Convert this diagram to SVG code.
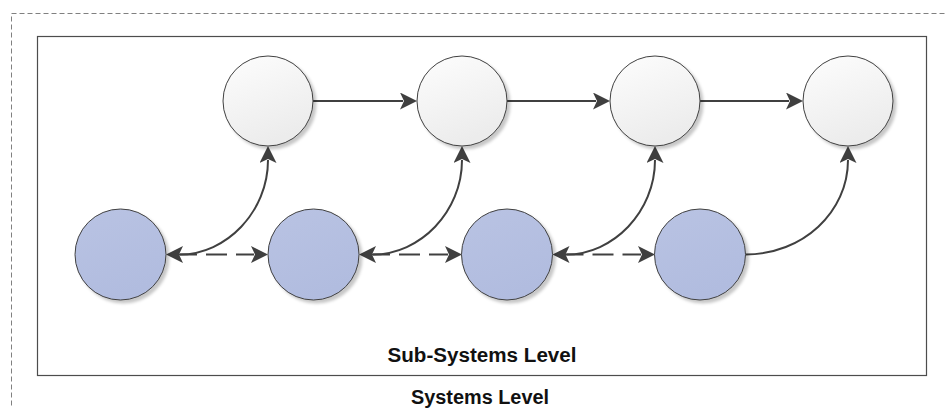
<svg xmlns="http://www.w3.org/2000/svg" width="946" height="408" viewBox="0 0 946 408">
  <style>
    .frame-outer { fill: none; stroke: #808080; stroke-width: 1; stroke-dasharray: 5 3; }
    .frame-inner { fill: #ffffff; stroke: #4d4d4d; stroke-width: 1.2; }
    .state { fill: url(#stateFill); stroke: #404040; stroke-width: 1; filter: url(#shadow); }
    .sub { fill: url(#subFill); stroke: #404040; stroke-width: 1; filter: url(#shadow); }
    .link { fill: none; stroke: #404040; stroke-width: 2; }
    .dashed { stroke-dasharray: 21 9; }
    .label { font-family: "Liberation Sans", Arial, sans-serif; font-weight: bold; font-size: 20px; fill: #111111; text-anchor: middle; }
  </style>
  <defs>
    <linearGradient id="stateFill" x1="0" y1="0" x2="0.4" y2="1">
      <stop offset="0" stop-color="#fdfdfd"/>
      <stop offset="1" stop-color="#ececec"/>
    </linearGradient>
    <linearGradient id="subFill" x1="0" y1="0" x2="0.4" y2="1">
      <stop offset="0" stop-color="#b9c3e3"/>
      <stop offset="1" stop-color="#b1bcdf"/>
    </linearGradient>
    <filter id="shadow" x="-20%" y="-20%" width="150%" height="150%">
      <feDropShadow dx="3" dy="3" stdDeviation="1.6" flood-color="#000000" flood-opacity="0.22"/>
    </filter>
    <marker id="head" markerUnits="userSpaceOnUse" markerWidth="18" markerHeight="18" refX="3" refY="8.5" orient="auto-start-reverse">
      <path d="M0,0 L17,8.5 L0,17 L4,8.5 z" fill="#3f3f3f"/>
    </marker>
  </defs>

  <!-- containers -->
  <rect class="frame-outer" x="11.5" y="13.5" width="1000" height="500"/>
  <rect class="frame-inner" x="37.5" y="36.5" width="889" height="339"/>
  <text class="label" x="482" y="362" textLength="189" lengthAdjust="spacingAndGlyphs">Sub-Systems Level</text>
  <text class="label" x="480" y="404" textLength="138" lengthAdjust="spacingAndGlyphs">Systems Level</text>

  <!-- connectors -->
  <g id="connectors">
    <!-- top row flow -->
    <path class="link" d="M313,101 L403,101" marker-end="url(#head)"/>
    <path class="link" d="M507,101 L596,101" marker-end="url(#head)"/>
    <path class="link" d="M700,101 L789,101" marker-end="url(#head)"/>
    <!-- links between rows -->
    <path class="link" d="M180,254.5 C226,254.5 268,212 268,160" marker-start="url(#head)" marker-end="url(#head)"/>
    <path class="link" d="M373,254.5 C420,254.5 462,212 462,160" marker-start="url(#head)" marker-end="url(#head)"/>
    <path class="link" d="M566.5,254.5 C613,254.5 655,212 655,160" marker-start="url(#head)" marker-end="url(#head)"/>
    <path class="link" d="M745.5,254.5 C803,254.5 848,212 848,160" marker-end="url(#head)"/>
    <!-- bottom row dashed links -->
    <path class="link dashed" d="M176,254.5 L254,254.5" marker-end="url(#head)"/>
    <path class="link dashed" d="M369,254.5 L448,254.5" marker-end="url(#head)"/>
    <path class="link dashed" d="M562.5,254.5 L641,254.5" marker-end="url(#head)"/>
  </g>

  <!-- top row nodes -->
  <g id="top-1"><circle class="state" cx="268" cy="101" r="45"/></g>
  <g id="top-2"><circle class="state" cx="462" cy="101" r="45"/></g>
  <g id="top-3"><circle class="state" cx="655" cy="101" r="45"/></g>
  <g id="top-4"><circle class="state" cx="848" cy="101" r="45"/></g>

  <!-- bottom row nodes -->
  <g id="sub-1"><circle class="sub" cx="120.5" cy="254.5" r="45.5"/></g>
  <g id="sub-2"><circle class="sub" cx="313.5" cy="254.5" r="45.5"/></g>
  <g id="sub-3"><circle class="sub" cx="507" cy="254.5" r="45.5"/></g>
  <g id="sub-4"><circle class="sub" cx="700" cy="254.5" r="45.5"/></g>
</svg>
